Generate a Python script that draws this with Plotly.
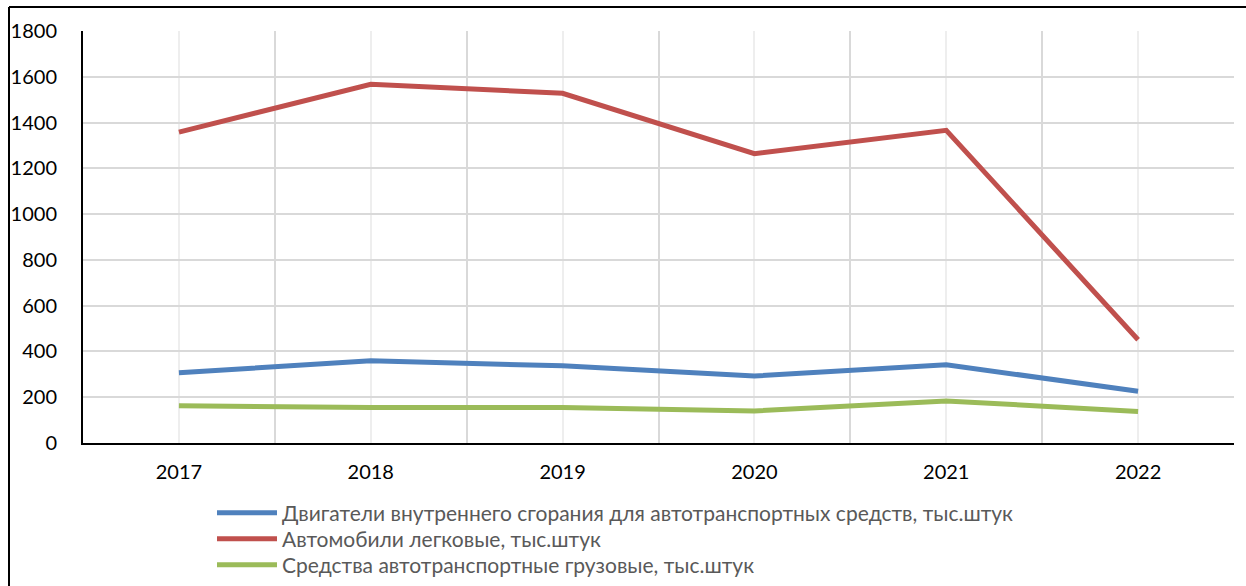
import plotly.graph_objects as go

years = [2017, 2018, 2019, 2020, 2021, 2022]
engines = [307, 359, 337, 293, 342, 226]
cars = [1358, 1567, 1528, 1264, 1366, 451]
trucks = [163, 155, 155, 140, 184, 138]

names = [
    "Двигатели внутреннего сгорания для автотранспортных средств, тыс.штук",
    "Автомобили легковые, тыс.штук",
    "Средства автотранспортные грузовые, тыс.штук",
]
colors = ["#4F81BD", "#C0504D", "#9BBB59"]
series = [engines, cars, trucks]

W, H = 1246, 586
L, R, T, B = 83, 1234, 31, 443

def px_x(p):
    return (p - L) / (R - L)

def px_y(p):
    return (B - p) / (B - T)

font = "Lato, 'Open Sans', sans-serif"
legend_ids = ["legend", "legend2", "legend3"]
legend_rows = [513, 539, 565]

fig = go.Figure()
for n, c, s, lg in zip(names, colors, series, legend_ids):
    fig.add_trace(go.Scatter(x=years, y=s, name=n, mode="lines", legend=lg,
                             line=dict(color=c, width=5)))

legend_common = dict(xanchor="left", yanchor="middle",
                     font=dict(size=21, color="#595959", family=font),
                     bgcolor="rgba(0,0,0,0)", itemwidth=60,
                     borderwidth=0)

layout_legends = {}
for lg, row in zip(legend_ids, legend_rows):
    layout_legends[lg] = dict(x=px_x(212), y=px_y(row), **legend_common)

fig.update_layout(
    width=W, height=H,
    margin=dict(l=L, r=W - R, t=T, b=H - B, pad=0, autoexpand=False),
    paper_bgcolor="white", plot_bgcolor="white",
    font=dict(family=font, size=20, color="black"),
    showlegend=True,
    xaxis=dict(range=[min(years) - 0.5, max(years) + 0.5],
               tickvals=years, ticktext=[str(y) for y in years],
               showgrid=True, gridcolor="#eeeeee", gridwidth=2,
               minor=dict(tickvals=[y - 0.5 for y in years] + [max(years) + 0.5],
                          showgrid=True, gridcolor="#d9d9d9", gridwidth=2),
               showline=True, linecolor="black", linewidth=2,
               ticks="", ticklabelstandoff=10, zeroline=False, automargin=False,
               tickfont=dict(size=20, color="black")),
    yaxis=dict(range=[0, 1800], dtick=200, showgrid=True,
               gridcolor="#d9d9d9", gridwidth=2,
               showline=True, linecolor="black", linewidth=2,
               ticks="", ticklabelstandoff=20, zeroline=False, automargin=False,
               tickfont=dict(size=20, color="black")),
    shapes=[
        dict(type="line", xref="paper", yref="paper",
             x0=px_x(9), x1=px_x(1250), y0=px_y(7), y1=px_y(7),
             line=dict(color="black", width=2)),
        dict(type="line", xref="paper", yref="paper",
             x0=px_x(9), x1=px_x(9), y0=px_y(7), y1=px_y(590),
             line=dict(color="black", width=2)),
    ],
    **layout_legends,
)

fig.write_html("out.html",
               config={"displayModeBar": False},
               post_script="document.body.style.margin='0';document.body.style.overflow='hidden';")
